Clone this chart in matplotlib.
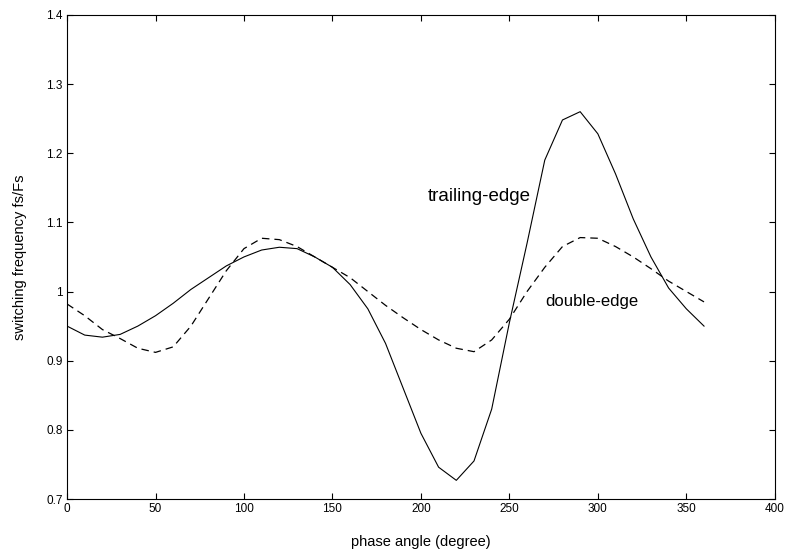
import matplotlib
matplotlib.use("Agg")
import matplotlib.pyplot as plt
from matplotlib.ticker import FuncFormatter

plt.rcParams['font.family'] = ['Liberation Sans', 'DejaVu Sans']

phase = [0, 10, 20, 30, 40, 50, 60, 70, 80, 90, 100, 110, 120, 130, 140, 150,
         160, 170, 180, 190, 200, 210, 220, 230, 240, 250, 260, 270, 280, 290,
         300, 310, 320, 330, 340, 350, 360]

trailing_edge = [0.950, 0.937, 0.934, 0.938, 0.950, 0.965, 0.983, 1.003, 1.020,
                 1.037, 1.050, 1.060, 1.064, 1.062, 1.050, 1.035, 1.010, 0.975,
                 0.925, 0.860, 0.795, 0.746, 0.727, 0.755, 0.830, 0.955, 1.070,
                 1.190, 1.248, 1.260, 1.228, 1.170, 1.105, 1.050, 1.005, 0.975,
                 0.950]

double_edge = [0.982, 0.965, 0.945, 0.932, 0.918, 0.912, 0.920, 0.950, 0.990,
               1.030, 1.062, 1.077, 1.075, 1.065, 1.050, 1.035, 1.020, 1.000,
               0.980, 0.962, 0.945, 0.930, 0.918, 0.913, 0.930, 0.960, 1.000,
               1.035, 1.065, 1.078, 1.077, 1.065, 1.050, 1.033, 1.015, 1.000,
               0.985]

x_ticks = [0, 50, 100, 150, 200, 250, 300, 350, 400]
y_ticks = [0.7, 0.8, 0.9, 1.0, 1.1, 1.2, 1.3, 1.4]

fig = plt.figure(figsize=(7.85, 5.5), dpi=100)
ax = fig.add_axes([0.0854, 0.0927, 0.9016, 0.8803])

ax.plot(phase, trailing_edge, color='black', linewidth=0.8, linestyle='-')
ax.plot(phase, double_edge, color='black', linewidth=0.9, linestyle=(0, (6, 4)))

ax.set_xlim(0, 400)
ax.set_ylim(0.7, 1.4)
ax.set_xticks(x_ticks)
ax.set_yticks(y_ticks)
ax.yaxis.set_major_formatter(FuncFormatter(lambda v, p: f"{v:g}"))
ax.tick_params(direction='in', top=True, right=True, length=4, width=0.8,
               labelsize=8.5, pad=3)
for s in ax.spines.values():
    s.set_linewidth(0.8)

ax.set_xlabel('phase angle (degree)', fontsize=10.5, labelpad=14)
ax.set_ylabel('switching frequency fs/Fs', fontsize=10.5, labelpad=14)

ax.text(204, 1.137, 'trailing-edge', fontsize=13.5, va='center', ha='left')
ax.text(270, 0.986, 'double-edge', fontsize=12, va='center', ha='left')

fig.savefig('out.png', dpi=100)
